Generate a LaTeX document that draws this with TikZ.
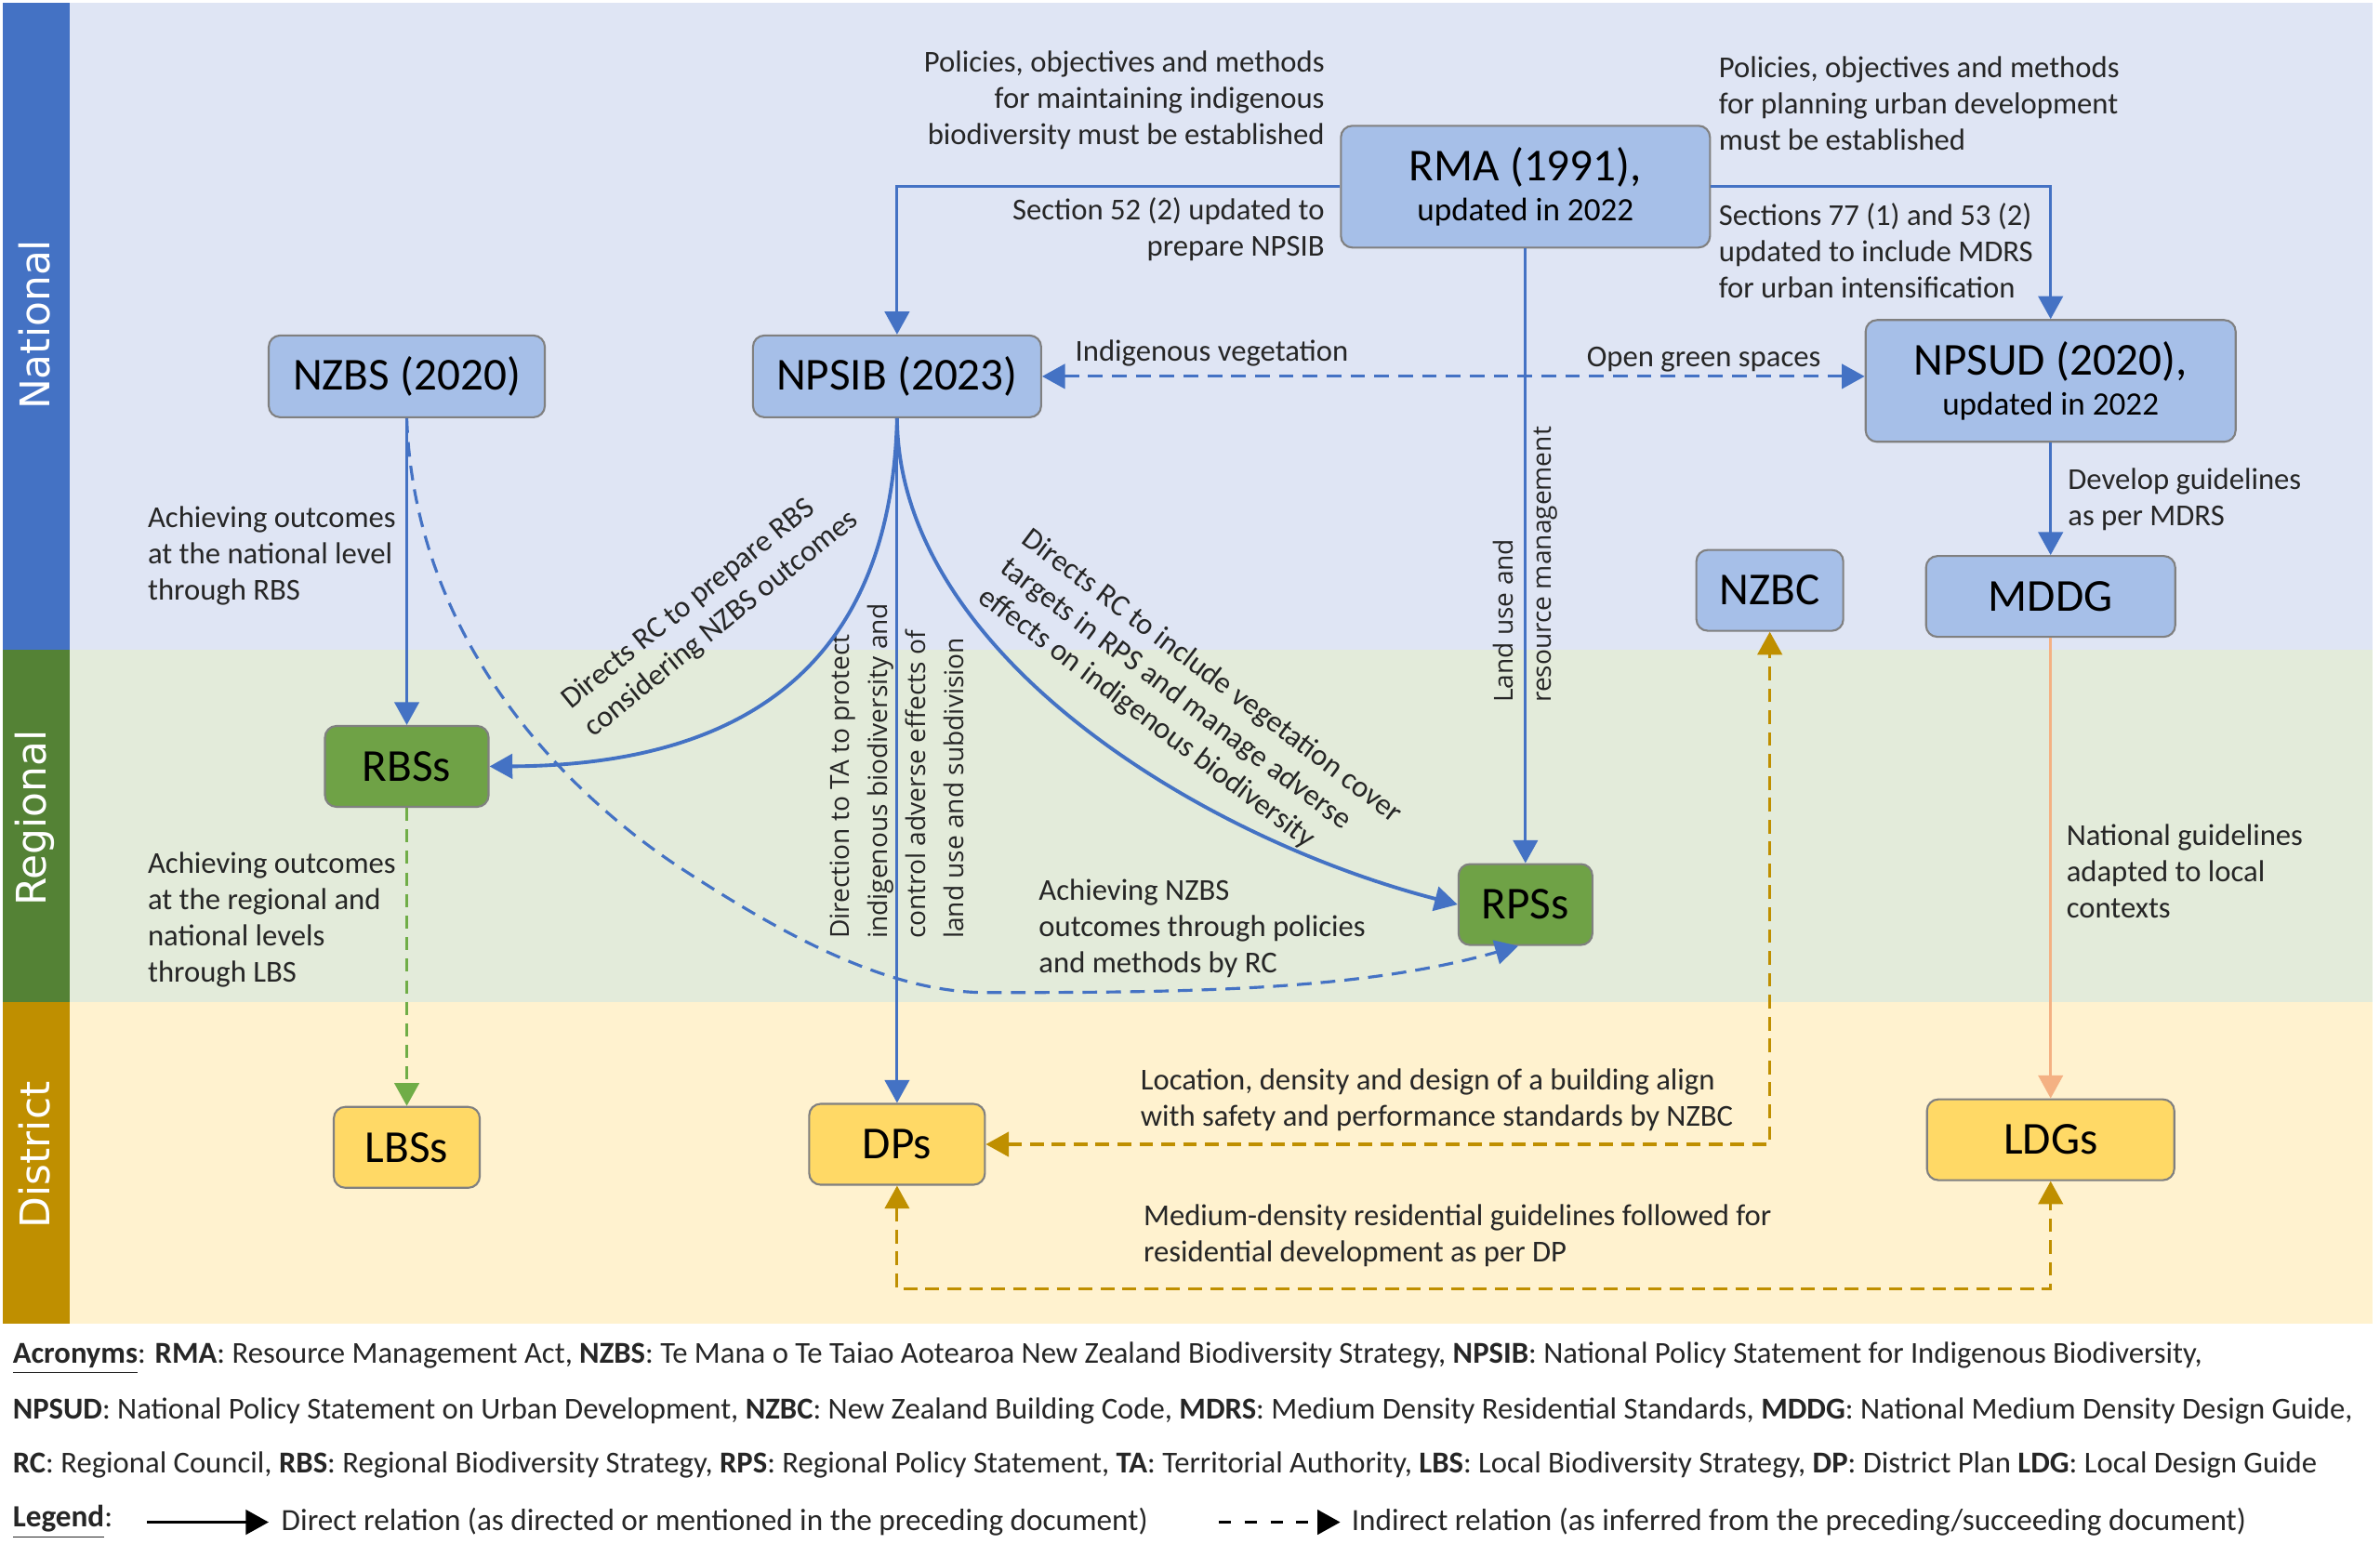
\documentclass[tikz,border=0pt]{standalone}
\usepackage{fontspec}
\setmainfont{Carlito}
\newfontfamily\rotfont{Open Sans}
\newfontfamily\bandfont{DejaVu Sans}
\usetikzlibrary{arrows.meta}
\definecolor{natline}{HTML}{4472C4}
\definecolor{natbg}{HTML}{DFE5F4}
\definecolor{regbg}{HTML}{E3EBDA}
\definecolor{disbg}{HTML}{FFF2CF}
\definecolor{regbar}{HTML}{548235}
\definecolor{gold}{HTML}{BF8F00}
\definecolor{natbox}{HTML}{A6BFE8}
\definecolor{regbox}{HTML}{6FA246}
\definecolor{disbox}{HTML}{FFD966}
\definecolor{peach}{HTML}{F4B183}
\definecolor{leaf}{HTML}{70AD47}
\begin{document}
\begin{tikzpicture}[x=0.016327cm, y=-0.016327cm, >={Triangle[length=7pt,width=7.5pt]},
  box/.style={draw=black!50, line width=0.6pt, rounded corners=3.5pt, inner sep=0pt, text=black, font=\fontsize{14}{15}\selectfont},
  nat/.style={box, fill=natbox},
  reg/.style={box, fill=regbox},
  dis/.style={box, fill=disbox},
  note/.style={inner sep=0pt, text=black!85, font=\fontsize{9.3}{11.1}\selectfont, align=left},
  turned/.style={inner sep=0pt, text=black!85, font=\rotfont\fontsize{8}{11.6}\selectfont, align=left, rotate=90},
  band/.style={text=white, font=\bandfont\fontsize{12.5}{14}\selectfont, rotate=90},
  foot/.style={anchor=west, inner sep=0pt, text=black!85, font=\fontsize{9.3}{12}\selectfont},
  direct/.style={natline, line width=0.9pt, ->},
  curved/.style={direct, line width=1.1pt},
  indirect/.style={direct, dash pattern=on 4.5pt off 2.8pt},
  guide/.style={peach, line width=0.8pt, ->},
  greendash/.style={leaf, line width=0.9pt, dash pattern=on 4pt off 2.6pt, ->},
  golddash/.style={gold, line width=0.9pt, dash pattern=on 4.2pt off 2.5pt, <->}]
\useasboundingbox (0,0) rectangle (1568,1017);
\fill[natbg] (46,2) rectangle (1563,428);
\fill[regbg] (46,428) rectangle (1563,660);
\fill[disbg] (46,660) rectangle (1563,872);
\fill[natline] (2,2) rectangle (46,428);
\fill[regbar] (2,428) rectangle (46,660);
\fill[gold] (2,660) rectangle (46,872);
\node[band] (NAT) at (23,214) {National};
\node[band] (REG) at (23,539) {Regional};
\node[band] (DIS) at (23,761) {District};

\node[nat, minimum width=3.97cm, minimum height=1.31cm, align=center] (RMA) at (1005,123) {RMA (1991),\\[-3pt]{\fontsize{10}{12}\selectfont updated in 2022}};
\node[nat, minimum width=2.97cm, minimum height=0.88cm] (NZBS) at (268,248) {NZBS (2020)};
\node[nat, minimum width=3.10cm, minimum height=0.88cm] (NPSIB) at (591,248) {NPSIB (2023)};
\node[nat, minimum width=3.98cm, minimum height=1.31cm, align=center] (NPSUD) at (1351,251) {NPSUD (2020),\\[-3pt]{\fontsize{10}{12}\selectfont updated in 2022}};
\node[nat, minimum width=1.58cm, minimum height=0.87cm] (NZBC) at (1166,389) {NZBC};
\node[nat, minimum width=2.68cm, minimum height=0.87cm] (MDDG) at (1351,393) {MDDG};
\node[reg, minimum width=1.76cm, minimum height=0.87cm] (RBS) at (268,505) {RBSs};
\node[reg, minimum width=1.44cm, minimum height=0.87cm] (RPS) at (1005,596) {RPSs};
\node[dis, minimum width=1.57cm, minimum height=0.87cm] (LBS) at (268,756) {LBSs};
\node[dis, minimum width=1.89cm, minimum height=0.87cm] (DP) at (591,754) {DPs};
\node[dis, minimum width=2.66cm, minimum height=0.87cm] (LDG) at (1351,751) {LDGs};

\node[note, anchor=east, align=right] (T1) at (873,66) {Policies, objectives and methods\\for maintaining indigenous\\biodiversity must be established};
\node[note, anchor=east, align=right] (T2) at (873,151) {Section 52 (2) updated to\\prepare NPSIB};
\node[note, anchor=west] (T3) at (1132,68) {Policies, objectives and methods\\for planning urban development\\must be established};
\node[note, anchor=west] (T4) at (1132,165) {Sections 77 (1) and 53 (2)\\updated to include MDRS\\for urban intensification};
\node[note, anchor=west] (T5) at (708,233) {Indigenous vegetation};
\node[note, anchor=west] (T6) at (1045,237) {Open green spaces};
\node[note, anchor=west] (T7) at (97,366) {Achieving outcomes\\at the national level\\through RBS};
\node[note, anchor=west] (T8) at (1362,329) {Develop guidelines\\as per MDRS};
\node[note, anchor=west] (T9) at (97,606) {Achieving outcomes\\at the regional and\\national levels\\through LBS};
\node[note, anchor=west] (T10) at (684,612) {Achieving NZBS\\outcomes through policies\\and methods by RC};
\node[note, anchor=west] (T11) at (1361,574) {National guidelines\\adapted to local\\contexts};
\node[note, anchor=west] (T12) at (751,725) {Location, density and design of a building align\\with safety and performance standards by NZBC};
\node[note, anchor=west] (T13) at (753,814) {Medium-density residential guidelines followed for\\residential development as per DP};
\node[turned] (T14) at (1005,372) {Land use and\\resource management};
\node[turned] (T15) at (591,508) {Direction to TA to protect\\indigenous biodiversity and\\control adverse effects of\\land use and subdivision};
\node[note, rotate=39] (T16) at (468,402) {Directs RC to prepare RBS\\considering NZBS outcomes};
\node[note, rotate=-37] (T17) at (784,465) {Directs RC to include vegetation cover\\targets in RPS and manage adverse\\effects on indigenous biodiversity};

\draw[direct] (RMA.west) -| (NPSIB.north);
\draw[direct] (RMA.east) -| (NPSUD.north);
\draw[direct] (RMA) -- (RPS);
\draw[indirect, <->] (NPSIB.east) -- (NPSIB.east -| NPSUD.west);
\draw[direct] (NZBS) -- (RBS);
\draw[indirect] (NZBS.south) .. controls (273,420) and (370,521) .. (450,573) .. controls (525,622) and (590,654) .. (650,654) .. controls (780,654) and (896,653) .. (RPS.-100);
\draw[curved] (NPSIB.south) .. controls (588,400) and (530,504) .. (RBS.east);
\draw[curved] (NPSIB.south) .. controls (592,430) and (790,552) .. (RPS.west);
\draw[direct] (NPSIB) -- (DP);
\draw[direct] (NPSUD) -- (MDDG);
\draw[guide] (MDDG) -- (LDG);
\draw[greendash] (RBS) -- (LBS);
\draw[golddash] (DP.east) -| (NZBC.south);
\draw[golddash] (DP.south) -- ++(0,68) -| (LDG.south);

\node[foot] (AC1) at (8,895) {\underline{\textbf{Acronyms}}: \textbf{RMA}: Resource Management Act, \textbf{NZBS}: Te Mana o Te Taiao Aotearoa New Zealand Biodiversity Strategy, \textbf{NPSIB}: National Policy Statement for Indigenous Biodiversity,};
\node[foot] (AC2) at (8,930) {\textbf{NPSUD}: National Policy Statement on Urban Development, \textbf{NZBC}: New Zealand Building Code, \textbf{MDRS}: Medium Density Residential Standards, \textbf{MDDG}: National Medium Density Design Guide,};
\node[foot] (AC3) at (8,965) {\textbf{RC}: Regional Council, \textbf{RBS}: Regional Biodiversity Strategy, \textbf{RPS}: Regional Policy Statement, \textbf{TA}: Territorial Authority, \textbf{LBS}: Local Biodiversity Strategy, \textbf{DP}: District Plan \textbf{LDG}: Local Design Guide};
\node[foot, font=\fontsize{9.45}{12}\selectfont] (LEG) at (8,1003) {\underline{\textbf{Legend}}:};
\coordinate (S1) at (97,1003);
\coordinate (S2) at (177,1003);
\coordinate (S3) at (803,1003);
\coordinate (S4) at (883,1003);
\draw[black, line width=1pt, -{Triangle[length=7pt,width=7.5pt]}] (S1) -- (S2);
\draw[black, line width=1pt, dash pattern=on 3.7pt off 4.2pt, -{Triangle[length=7pt,width=7.5pt]}] (S3) -- (S4);
\node[foot, font=\fontsize{9.45}{12}\selectfont] (D1) at (185,1003) {Direct relation (as directed or mentioned in the preceding document)};
\node[foot, font=\fontsize{9.45}{12}\selectfont] (D2) at (890,1003) {Indirect relation (as inferred from the preceding/succeeding document)};
\end{tikzpicture}
\end{document}
